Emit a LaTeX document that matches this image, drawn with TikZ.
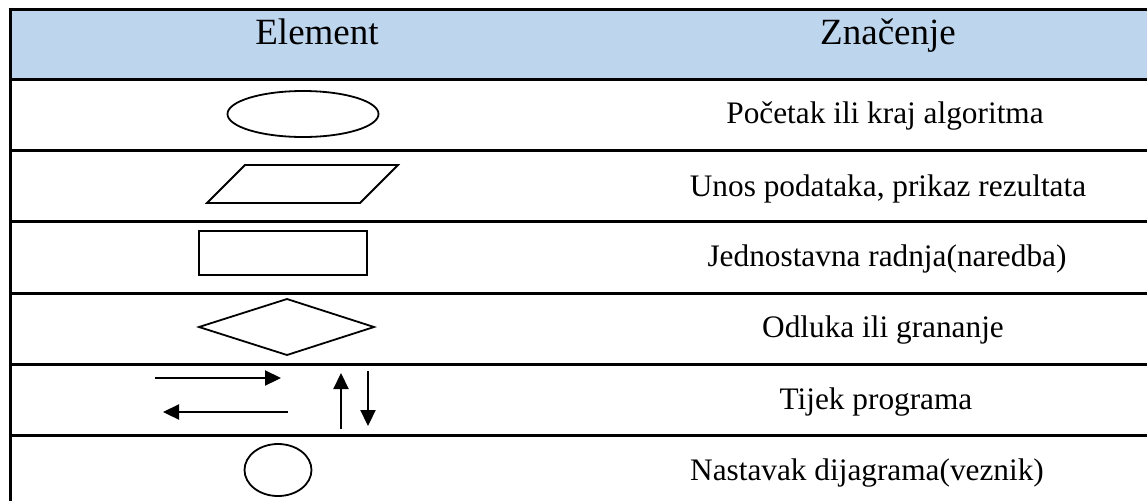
\documentclass[tikz,border=0pt]{standalone}
\usepackage{fontspec}
\setmainfont{Liberation Serif}
\usetikzlibrary{arrows.meta,shapes.geometric}
\definecolor{headblue}{HTML}{BDD6EE}
\tikzset{
  grid/.style={line width=3pt},
  shp/.style={draw, line width=1.8pt},
  flow/.style={line width=2.2pt, -{Triangle[length=16pt,width=15pt]}},
  headtxt/.style={anchor=base, inner sep=0pt, font=\fontsize{37}{40}\selectfont},
  bodytxt/.style={anchor=base, inner sep=0pt, font=\fontsize{31.3}{34}\selectfont}
}
\begin{document}
\begin{tikzpicture}[x=1pt,y=-1pt]
\useasboundingbox (0,0) rectangle (1147,501);
% header
\fill[headblue] (10,9) rectangle (1147,79);
\draw[grid] (8.5,9) -- (1147,9);
\draw[grid] (10,7.5) -- (10,501);
\foreach \yy in {79,150,221,293,364,435}{
  \draw[grid] (10,\yy) -- (1147,\yy);
}
\node[headtxt] (h1) at (317,44) {Element};
\node[headtxt] (h2) at (888,44) {Značenje};
% row texts
\node[bodytxt] (t1) at (885,123) {Početak ili kraj algoritma};
\node[bodytxt] (t2) at (888,196) {Unos podataka, prikaz rezultata};
\node[bodytxt] (t3) at (887,266) {Jednostavna radnja(naredba)};
\node[bodytxt] (t4) at (883,337) {Odluka ili grananje};
\node[bodytxt] (t5) at (876,409) {Tijek programa};
\node[bodytxt] (t6) at (867,480) {Nastavak dijagrama(veznik)};
% shapes
\draw[shp] (303,114) ellipse [x radius=75.5, y radius=23];
\draw[shp] (245,165) -- (398,165) -- (360,203) -- (207,203) -- cycle;
\draw[shp] (199,231) rectangle (367,275);
\draw[shp] (287,299) -- (374,327) -- (287,355) -- (199,327) -- cycle;
\draw[shp] (278,470) ellipse [x radius=33.5, y radius=26];
% flow arrows
\coordinate (r1) at (155,378); \coordinate (r2) at (281,378);
\coordinate (l1) at (288,412); \coordinate (l2) at (163,412);
\coordinate (u1) at (341,429); \coordinate (u2) at (341,373);
\coordinate (d1) at (368,371); \coordinate (d2) at (368,426);
\draw[flow] (r1) -- (r2);
\draw[flow] (l1) -- (l2);
\draw[flow] (u1) -- (u2);
\draw[flow] (d1) -- (d2);
\end{tikzpicture}
\end{document}
